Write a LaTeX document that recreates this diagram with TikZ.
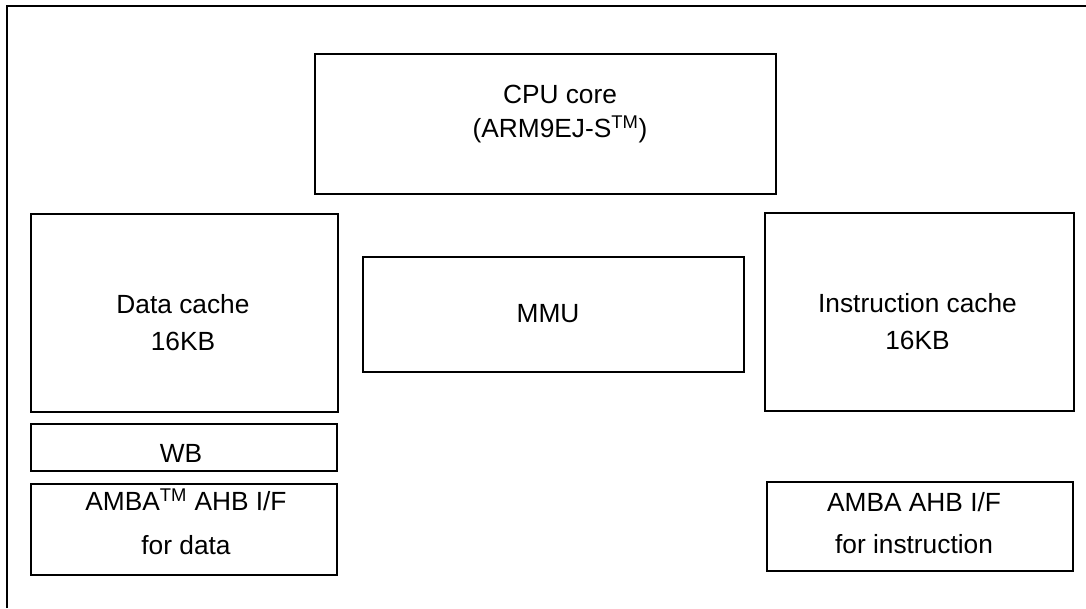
\documentclass[tikz,border=0pt]{standalone}
\usepackage{fontspec}
\setmainfont{Liberation Sans}
\usepackage{tikz}
\usetikzlibrary{positioning}
\tikzset{soc-block/.style={draw, line width=1pt, inner sep=0pt}}
\tikzset{soc-label/.style={anchor=base, align=center, inner sep=0pt, font=\fontsize{18.7}{23.5}\selectfont}}

\begin{document}
\begin{tikzpicture}[x=0.025cm, y=-0.025cm]
            \useasboundingbox (0,0) rectangle (1086,608);
            \draw[line width=1.4pt] (7,608) -- (7,6) -- (1086,6);

            \node[soc-block, minimum width=11.525cm, minimum height=3.5cm] (cpu-core) at (545.5,124) {};
            \node[soc-block, minimum width=7.675cm, minimum height=4.95cm] (data-cache) at (184.5,313) {};
            \node[soc-block, minimum width=7.65cm, minimum height=1.175cm] (write-buffer) at (184,447.5) {};
            \node[soc-block, minimum width=7.65cm, minimum height=2.275cm] (ahb-data) at (184,529.5) {};
            \node[soc-block, minimum width=9.525cm, minimum height=2.875cm] (mmu) at (553.5,314.5) {};
            \node[soc-block, minimum width=7.725cm, minimum height=4.95cm] (instr-cache) at (919.5,312) {};
            \node[soc-block, minimum width=7.65cm, minimum height=2.225cm] (ahb-instr) at (920,526.5) {};

            \node[soc-label] (cpu-core-text) at (560,137) {CPU core\\(ARM9EJ-S\textsuperscript{TM})};
            \node[soc-label] (data-cache-text) at (183,350) {Data cache\\[2.8pt]16KB};
            \node[soc-label] (write-buffer-text) at (181,462) {WB};
            \node[soc-label] (ahb-data-text) at (186,554) {AMBA\textsuperscript{TM} AHB I/F\\[7.6pt]for data};
            \node[soc-label] (mmu-text) at (548,322) {MMU};
            \node[soc-label] (instr-cache-text) at (917.5,349) {Instruction cache\\[2.8pt]16KB};
            \node[soc-label] (ahb-instr-text) at (914,553) {AMBA AHB I/F\\[5.7pt]for instruction};
        \end{tikzpicture}
\end{document}
